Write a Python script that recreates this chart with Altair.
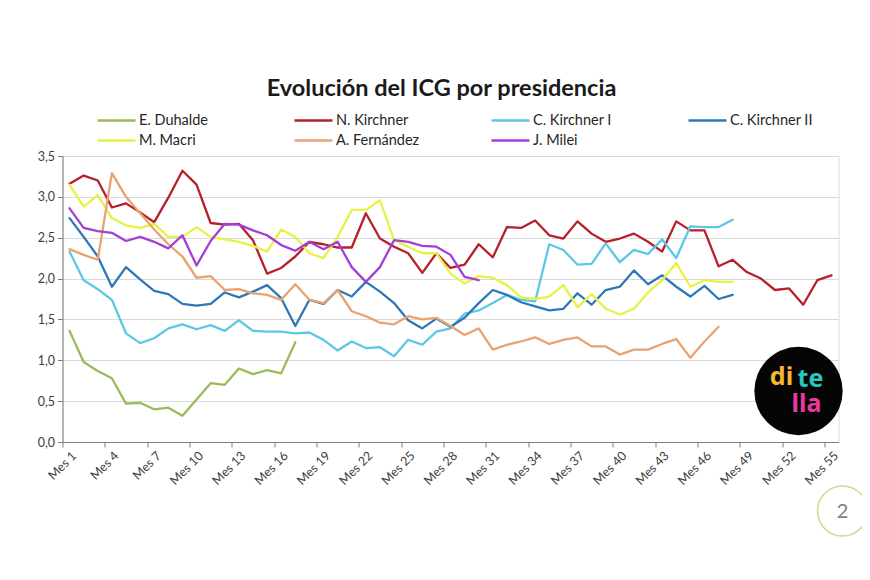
import altair as alt
import pandas as pd

# ---- data ----
series_names = ["E. Duhalde", "N. Kirchner", "C. Kirchner I", "C. Kirchner II",
                "M. Macri", "A. Fernández", "J. Milei"]
series_colors = ["#9BBB59", "#B5202A", "#5CC8E6", "#2E78B7",
                 "#E6F245", "#E8A370", "#A43FD4"]
series_widths = [2.3, 2.3, 2.3, 2.3, 2.3, 2.3, 4.8]

duhalde = [1.36, 0.98, 0.87, 0.78, 0.47, 0.48, 0.40, 0.42, 0.32, 0.52,
           0.72, 0.70, 0.90, 0.83, 0.88, 0.84, 1.22]
n_kirchner = [3.16, 3.26, 3.20, 2.87, 2.92, 2.81, 2.69, 2.99, 3.32, 3.15,
              2.68, 2.66, 2.67, 2.47, 2.06, 2.13, 2.27, 2.45, 2.42, 2.38,
              2.38, 2.80, 2.49, 2.39, 2.31, 2.07, 2.31, 2.13, 2.17, 2.42,
              2.26, 2.63, 2.62, 2.71, 2.53, 2.49, 2.70, 2.55, 2.45, 2.49,
              2.55, 2.45, 2.33, 2.70, 2.59, 2.59, 2.15, 2.23, 2.08, 2.00,
              1.86, 1.88, 1.68, 1.98, 2.04]
c_kirchner_1 = [2.33, 1.98, 1.87, 1.74, 1.33, 1.21, 1.27, 1.39, 1.44, 1.38,
                1.43, 1.36, 1.49, 1.36, 1.35, 1.35, 1.33, 1.34, 1.25, 1.12,
                1.23, 1.15, 1.16, 1.05, 1.25, 1.19, 1.35, 1.39, 1.57, 1.61,
                1.70, 1.80, 1.74, 1.72, 2.42, 2.35, 2.17, 2.18, 2.43, 2.20,
                2.35, 2.30, 2.48, 2.25, 2.64, 2.63, 2.63, 2.72]
c_kirchner_2 = [2.74, 2.51, 2.27, 1.90, 2.14, 1.99, 1.85, 1.81, 1.69, 1.67,
                1.69, 1.83, 1.77, 1.84, 1.92, 1.76, 1.42, 1.74, 1.69, 1.86,
                1.78, 1.96, 1.84, 1.70, 1.49, 1.39, 1.51, 1.41, 1.52, 1.70,
                1.86, 1.80, 1.71, 1.66, 1.61, 1.63, 1.82, 1.68, 1.86, 1.90,
                2.10, 1.93, 2.04, 1.90, 1.78, 1.91, 1.75, 1.80]
macri = [3.15, 2.88, 3.02, 2.74, 2.65, 2.62, 2.67, 2.51, 2.51, 2.63,
         2.51, 2.48, 2.45, 2.40, 2.33, 2.60, 2.51, 2.31, 2.25, 2.51,
         2.84, 2.84, 2.96, 2.47, 2.39, 2.31, 2.31, 2.06, 1.94, 2.03,
         2.01, 1.92, 1.77, 1.75, 1.78, 1.92, 1.65, 1.81, 1.63, 1.56,
         1.63, 1.83, 1.98, 2.19, 1.90, 1.98, 1.96, 1.96]
a_fernandez = [2.36, 2.29, 2.23, 3.29, 3.00, 2.80, 2.60, 2.42, 2.27, 2.01,
               2.03, 1.86, 1.87, 1.82, 1.80, 1.74, 1.93, 1.74, 1.70, 1.86,
               1.60, 1.54, 1.46, 1.44, 1.54, 1.50, 1.52, 1.42, 1.31, 1.39,
               1.13, 1.19, 1.23, 1.28, 1.20, 1.25, 1.28, 1.17, 1.17, 1.07,
               1.13, 1.13, 1.20, 1.26, 1.03, 1.23, 1.41]
milei = [2.86, 2.62, 2.58, 2.56, 2.46, 2.51, 2.45, 2.37, 2.53, 2.16,
         2.46, 2.67, 2.66, 2.59, 2.53, 2.41, 2.34, 2.45, 2.36, 2.45,
         2.14, 1.96, 2.14, 2.47, 2.45, 2.40, 2.39, 2.29, 2.02, 1.98]

all_series = [duhalde, n_kirchner, c_kirchner_1, c_kirchner_2, macri, a_fernandez, milei]

title_text = "Evolución del ICG por presidencia"
x_label_values = list(range(1, 56, 3))          # Mes 1, Mes 4, ... Mes 55
y_values = [0, 0.5, 1.0, 1.5, 2.0, 2.5, 3.0, 3.5]

rows = []
for name, vals in zip(series_names, all_series):
    for i, v in enumerate(vals, start=1):
        rows.append({"presidencia": name, "mes": i, "icg": v})
df = pd.DataFrame(rows)

FONT = "Lato"
AX = "#7F7F7F"
W, H = 776, 286

x_scale = alt.Scale(domain=[0.5, 55.5], nice=False, zero=False)

lines = alt.Chart(df).mark_line(strokeJoin="round", strokeCap="round").encode(
    x=alt.X("mes:Q", scale=x_scale,
            axis=alt.Axis(values=x_label_values, labelExpr="'Mes ' + datum.value",
                          ticks=False, grid=False, domain=True, domainColor=AX,
                          labelAngle=-45, labelAlign="right", labelBaseline="top",
                          labelPadding=7, labelFontSize=12.5, labelColor="#404040",
                          labelFont=FONT, title=None, orient="bottom")),
    y=alt.Y("icg:Q", scale=alt.Scale(domain=[0, 3.5], nice=False),
            axis=alt.Axis(values=y_values,
                          labelExpr="replace(format(datum.value, '.1f'), '.', ',')",
                          tickSize=5, tickColor=AX, domainColor=AX,
                          gridColor="#D9D9D9", labelFontSize=12.5, labelColor="#404040",
                          labelFont=FONT, labelPadding=3, title=None)),
    color=alt.Color("presidencia:N", scale=alt.Scale(domain=series_names, range=series_colors),
                    legend=alt.Legend(
                        title=None, orient="none", legendX=33.5, legendY=-47,
                        direction="horizontal", columns=4, gridAlign="all",
                        columnPadding=66, rowPadding=2,
                        symbolType="M-1,0H2.8", symbolSize=400, labelOffset=20,
                        symbolStrokeWidth=2.6,
                        labelFont=FONT, labelFontSize=14.5, labelColor="#262626")),
    strokeWidth=alt.StrokeWidth("presidencia:N",
                                scale=alt.Scale(domain=series_names, range=series_widths),
                                legend=None),
)

ticks = alt.Chart(df).mark_point(opacity=0).encode(
    x=alt.X("mes:Q", scale=x_scale,
            axis=alt.Axis(values=[v - 0.5 for v in x_label_values], labels=False,
                          ticks=True, tickSize=5, tickColor=AX, domain=False,
                          grid=False, title=None, orient="bottom")),
)

title_mark = alt.Chart(pd.DataFrame({"t": [title_text]})).mark_text(
    font=FONT, fontSize=23.5, fontWeight="bold", color="#1A1A1A",
    align="center", baseline="alphabetic"
).encode(text="t:N", x=alt.value(379), y=alt.value(-60))

logo_bg = alt.Chart(pd.DataFrame({"k": [0]})).mark_point(
    shape="circle", filled=True, color="#050505", size=7800, opacity=1
).encode(x=alt.value(736), y=alt.value(235))

logo_txt = alt.Chart(pd.DataFrame({"t": ["di", "te", "lla"],
                                   "c": ["#F6B731", "#27C6BF", "#E8399E"],
                                   "px": [719, 748, 744], "py": [221, 223, 248]})).mark_text(
    font="Noto Sans", fontWeight="bold", fontSize=25, align="center", baseline="middle"
).encode(text="t:N", color=alt.Color("c:N", scale=None),
         x=alt.X("px:Q", scale=None), y=alt.Y("py:Q", scale=None))

page_circle = alt.Chart(pd.DataFrame({"k": [0]})).mark_point(
    shape="circle", filled=False, color="#C9DC8F", size=2500, strokeWidth=1.5, opacity=1
).encode(x=alt.value(780), y=alt.value(355))

page_num = alt.Chart(pd.DataFrame({"t": ["2"]})).mark_text(
    font=FONT, fontSize=20, color="#7F7F7F", align="center", baseline="middle"
).encode(text="t:N", x=alt.value(780), y=alt.value(356))

chart = alt.layer(lines, ticks, title_mark, logo_bg, logo_txt, page_circle, page_num).resolve_axis(
    x="independent"
).resolve_scale(color="independent").properties(
    width=W, height=H,
    autosize=alt.AutoSizeParams(type="none"),
    padding={"left": 54.5, "top": 148, "right": 23.5, "bottom": 130},
).configure_view(stroke=None).configure(background="white")

chart.save("out.html", embed_options={"renderer": "svg", "actions": False})
